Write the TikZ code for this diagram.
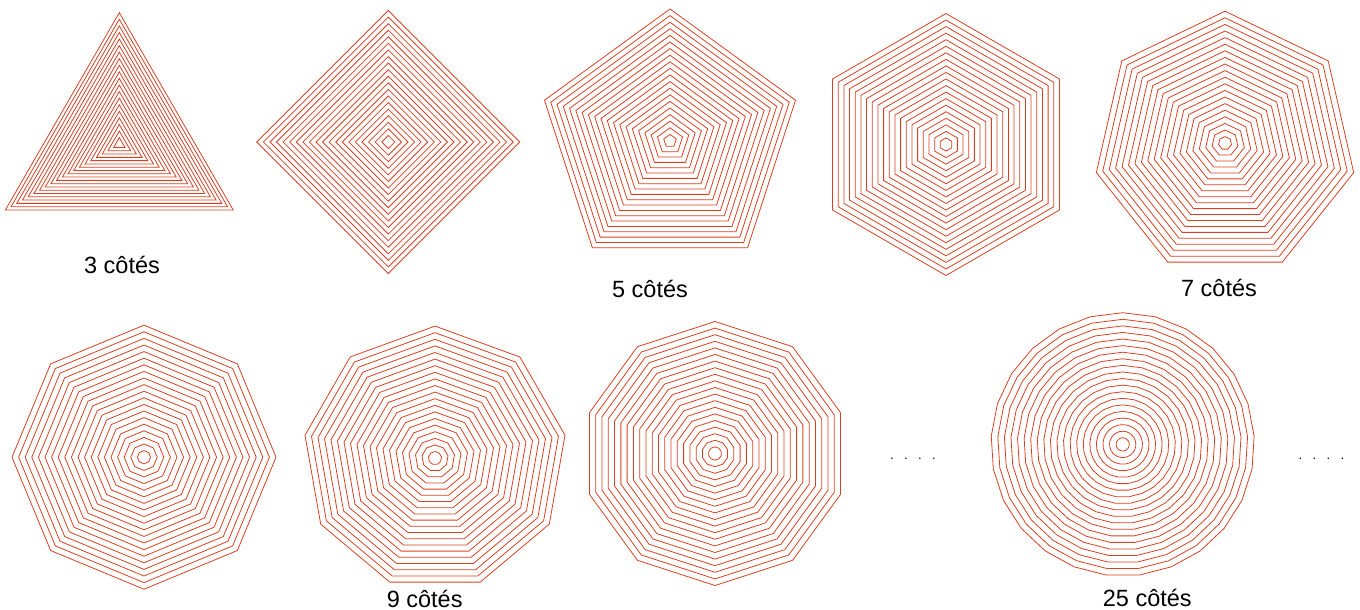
\documentclass[tikz,border=0pt]{standalone}
\usepackage{fontspec}
\setmainfont{Liberation Sans}
\definecolor{polyred}{RGB}{218,64,34}
\newcommand\concpoly[5]{% #1 cx, #2 cy, #3 sides, #4 outer radius, #5 count
  \pgfmathtruncatemacro\lastv{#3-1}%
  \foreach \k in {1,...,#5}{%
    \pgfmathsetmacro\rr{#4*\k/#5}%
    \draw[poly] ({#1},{#2-\rr})
      \foreach \i in {1,...,\lastv}{ -- ({#1+\rr*cos(90+360*\i/#3)},{#2-\rr*sin(90+360*\i/#3)}) } -- cycle;
  }}
\begin{document}
\begin{tikzpicture}[x=1pt,y=-1pt,
  poly/.style={draw=polyred, line width=0.8pt, line join=miter},
  lbl/.style={font=\fontsize{23.5}{28}\selectfont, inner sep=0pt, anchor=base},
  dots/.style={font=\fontsize{13}{15}\selectfont, inner sep=0pt}]
\useasboundingbox (0,0) rectangle (1360,610);
% top row
\concpoly{119.3}{144.2}{3}{131.5}{20}
\concpoly{388.3}{142}{4}{131.5}{20}
\concpoly{670}{141}{5}{132}{20}
\concpoly{946}{144.5}{6}{131}{20}
\concpoly{1225}{143.2}{7}{132}{20}
% bottom row
\concpoly{144}{457.2}{8}{132}{20}
\concpoly{435}{458.1}{9}{132}{20}
\concpoly{715}{453.5}{10}{132}{20}
\concpoly{1122.7}{444.4}{25}{131.7}{20}
% labels
\node[lbl] (l3) at (122,273.3) {3 côtés};
\node[lbl] (l5) at (650,297) {5 côtés};
\node[lbl] (l7) at (1219,296.6) {7 côtés};
\node[lbl] (l9) at (424.7,607.5) {9 côtés};
\node[lbl] (l25) at (1147.3,606) {25 côtés};
\node[dots] (d1) at (913,459) {.\hspace{10.4pt}.\hspace{10.4pt}.\hspace{10.4pt}.};
\node[dots] (d2) at (1321.5,458.5) {.\hspace{10.4pt}.\hspace{10.4pt}.\hspace{10.4pt}.};
\end{tikzpicture}
\end{document}
